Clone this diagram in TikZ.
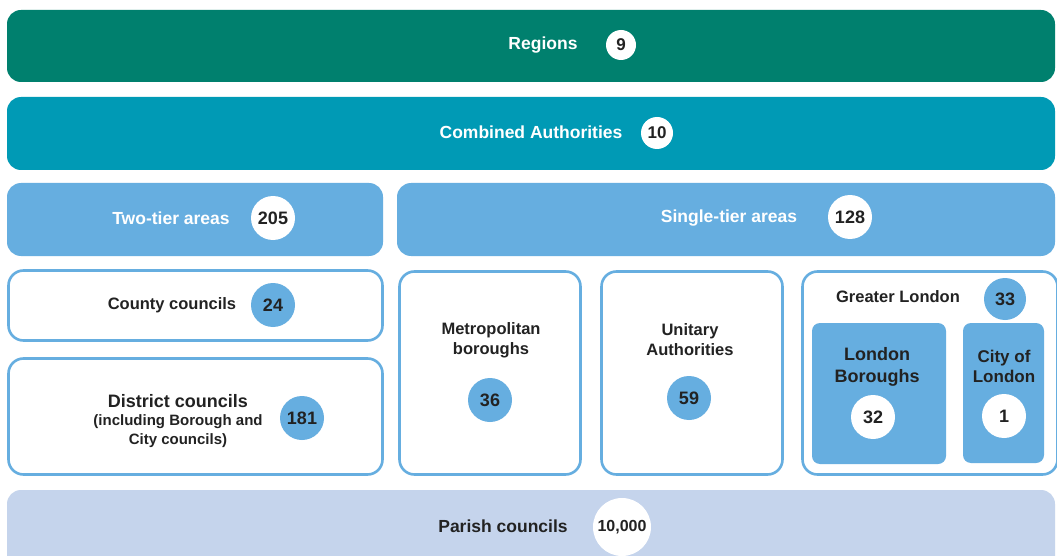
\documentclass[tikz,border=0pt]{standalone}
\usepackage{fontspec}
\setmainfont{Liberation Sans}
\usetikzlibrary{positioning,shapes,calc}
\definecolor{regiongreen}{RGB}{0,128,110}
\definecolor{combinedteal}{RGB}{0,154,181}
\definecolor{tierblue}{RGB}{102,174,224}
\definecolor{parishlilac}{RGB}{197,212,236}
\definecolor{inkgrey}{RGB}{34,34,34}

\tikzset{
  bar/.style={draw=none, rounded corners=14pt, inner sep=0pt},
  framebox/.style={draw=tierblue, line width=2.6pt, fill=white, rounded corners=15pt, inner sep=0pt},
  subbox/.style={fill=tierblue, rounded corners=8pt, inner sep=0pt},
  headtext/.style={font=\fontsize{17.5}{20}\selectfont\bfseries, text=white},
  boxtext/.style={font=\fontsize{16.5}{20}\selectfont\bfseries, text=inkgrey, align=center},
  countwhite/.style={circle, fill=white, inner sep=0pt, font=\fontsize{18}{20}\selectfont\bfseries, text=inkgrey},
  countblue/.style={circle, fill=tierblue, inner sep=0pt, font=\fontsize{18}{20}\selectfont\bfseries, text=inkgrey}
}

\begin{document}
\begin{tikzpicture}[x=1pt,y=-1pt]
        \clip (0,0) rectangle (1057,556);
        \fill[white] (0,0) rectangle (1057,556);

        % top bars
        \node[bar, fill=regiongreen, minimum width=1048pt, minimum height=72pt] (regions) at (531,46) {};
        \node[headtext] (regionslbl) at (543,45) {Regions};
        \node[countwhite, minimum size=30pt, font=\fontsize{17}{20}\selectfont\bfseries] (regionsnum) at (621,45) {9};

        \node[bar, fill=combinedteal, minimum width=1048pt, minimum height=73pt] (combined) at (531,133.5) {};
        \node[headtext] (combinedlbl) at (531,132) {Combined Authorities};
        \node[countwhite, minimum size=32pt, font=\fontsize{17}{20}\selectfont\bfseries] (combinednum) at (657,133) {10};

        % tier headers
        \node[bar, fill=tierblue, minimum width=376pt, minimum height=73pt] (twotier) at (195,219.5) {};
        \node[headtext] (twotierlbl) at (171,218) {Two-tier areas};
        \node[countwhite, minimum size=44pt] (twotiernum) at (273,218) {205};

        \node[bar, fill=tierblue, minimum width=658pt, minimum height=73pt] (singletier) at (726,219.5) {};
        \node[headtext] (singletierlbl) at (729,218) {Single-tier areas};
        \node[countwhite, minimum size=44pt] (singletiernum) at (850,217) {128};

        % two-tier councils
        \node[framebox, minimum width=374pt, minimum height=70pt] (county) at (195.5,305.5) {};
        \node[boxtext] (countylbl) at (172,305) {County councils};
        \node[countblue, minimum size=44pt] (countynum) at (273,305) {24};

        \node[framebox, minimum width=374pt, minimum height=116pt] (district) at (195.5,416.5) {};
        \node[boxtext, font=\fontsize{15}{18.5}\selectfont\bfseries] (districtlbl) at (178,421)
          {{\fontsize{18}{20}\selectfont District councils}\\(including Borough and\\City councils)};
        \node[countblue, minimum size=44pt] (districtnum) at (302,418) {181};

        % single-tier councils
        \node[framebox, minimum width=181pt, minimum height=203pt] (metro) at (490,373) {};
        \node[boxtext] (metrolbl) at (491,340) {Metropolitan\\boroughs};
        \node[countblue, minimum size=44pt] (metronum) at (490,400) {36};

        \node[framebox, minimum width=181pt, minimum height=203pt] (unitary) at (692,373) {};
        \node[boxtext] (unitarylbl) at (690,340) {Unitary\\Authorities};
        \node[countblue, minimum size=44pt] (unitarynum) at (689,398) {59};

        \node[framebox, minimum width=255pt, minimum height=203pt] (greater) at (930,373) {};
        \node[boxtext] (greaterlbl) at (898,297) {Greater London};
        \node[countblue, minimum size=42pt] (greaternum) at (1005,299) {33};

        \node[subbox, minimum width=134pt, minimum height=141pt] (lonbor) at (879,393.5) {};
        \node[boxtext, font=\fontsize{18}{22}\selectfont\bfseries] (lonborlbl) at (877,367) {London\\Boroughs};
        \node[countwhite, minimum size=44pt] (lonbornum) at (873,417) {32};

        \node[subbox, minimum width=81pt, minimum height=140pt] (city) at (1003.5,393) {};
        \node[boxtext, font=\fontsize{17}{20}\selectfont\bfseries] (citylbl) at (1004,366) {City of\\London};
        \node[countwhite, minimum size=44pt] (citynum) at (1004,416) {1};

        % parish level
        \node[bar, fill=parishlilac, minimum width=1048pt, minimum height=80pt] (parish) at (531,530) {};
        \node[headtext, text=inkgrey] (parishlbl) at (503,526) {Parish councils};
        \node[countwhite, minimum size=58pt, font=\fontsize{16}{18}\selectfont\bfseries] (parishnum) at (622,527) {10,000};
    \end{tikzpicture}
\end{document}
